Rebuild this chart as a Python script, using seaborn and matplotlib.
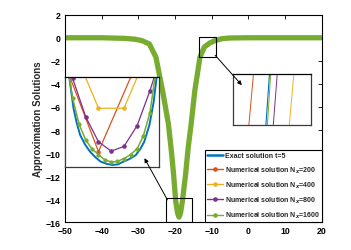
import numpy as np
import pandas as pd
import matplotlib
matplotlib.use('Agg')
import matplotlib.pyplot as plt
import seaborn as sns
from matplotlib.patches import Rectangle, FancyArrowPatch
from matplotlib.lines import Line2D

# ---------------------------------------------------
# data
# ---------------------------------------------------
# whole profile at t=5 (exact and Nx=1600 overlap at this scale)
x_main = [-50, -40, -34, -31, -29, -27, -25.2, -23.4, -22.5, -21.8, -21.0, -20.4,
          -19.8, -19.3, -18.9, -18.5, -18.0, -17.1, -16.4, -15.6, -14.6, -13.2,
          -12.0, -10.5, -9.1, -7.2, -5.0, 0, 10, 20]
u_main = [0, 0, -0.05, -0.12, -0.25, -0.54, -1.69, -4.59, -6.2, -7.48, -9.8, -11.8,
          -14.2, -15.2, -15.55, -15.2, -14.2, -11.8, -9.5, -7.48, -4.59, -1.69,
          -0.8, -0.45, -0.25, -0.08, -0.02, 0, 0, 0]

# zoom on the minimum
x_min_exact = [-19.95, -19.91, -19.82, -19.75, -19.68, -19.58, -19.47, -19.35, -19.25, -19.12,
               -19.00, -18.88, -18.78, -18.64, -18.50, -18.40, -18.32, -18.21, -18.12, -18.06, -18.02]
u_min_exact = [-13.70, -13.98, -14.52, -14.78, -14.98, -15.14, -15.27, -15.37, -15.44, -15.48,
               -15.50, -15.49, -15.45, -15.40, -15.33, -15.22, -15.10, -14.81, -14.41, -14.00, -13.75]
x_min_200 = [-20.39, -19.29, -18.18]
u_min_200 = [-12.93, -15.27, -13.18]
x_min_400 = [-19.83, -19.29, -18.75, -18.21]
u_min_400 = [-13.47, -14.52, -14.52, -13.49]
x_min_800 = [-20.12, -19.84, -19.56, -19.29, -19.02, -18.75, -18.47, -18.20, -17.92]
u_min_800 = [-13.32, -14.00, -14.67, -15.10, -15.26, -15.18, -14.82, -14.22, -13.50]
x_min_1600 = [-19.98, -19.84, -19.70, -19.56, -19.43, -19.29, -19.16, -19.02, -18.89,
              -18.75, -18.61, -18.47, -18.34, -18.20, -18.06, -17.92]
u_min_1600 = [-13.60, -14.34, -14.80, -15.07, -15.22, -15.32, -15.41, -15.45, -15.44,
              -15.39, -15.32, -15.22, -15.00, -14.60, -13.80, -13.00]

# zoom on the right foot
u_foot = [-0.71, -0.59]
x_foot_exact = [-11.217, -11.206]
x_foot_200 = [-11.261, -11.247]
x_foot_400 = [-11.157, -11.143]
x_foot_800 = [-11.198, -11.186]
x_foot_1600 = [-11.213, -11.203]

x_ticks = [-50, -40, -30, -20, -10, 0, 10, 20]
y_ticks = [-16, -14, -12, -10, -8, -6, -4, -2, 0, 2]
labels = ['Exact solution t=5', r'Numerical solution N$_x$=200', r'Numerical solution N$_x$=400',
          r'Numerical solution N$_x$=800', r'Numerical solution N$_x$=1600']

c_exact = '#0072BD'
c_200 = '#D95319'
c_400 = '#EDB120'
c_800 = '#7E2F8E'
c_1600 = '#77AC30'

sns.set_style('white')
plt.rcParams['font.family'] = ['Liberation Sans Narrow', 'Liberation Sans', 'DejaVu Sans']
plt.rcParams['font.weight'] = 'bold'

fig = plt.figure(figsize=(3.51, 2.51), dpi=100)
ax = fig.add_axes([0.1852, 0.1104, 0.7313, 0.8271])

sns.lineplot(x=x_main, y=u_main, ax=ax, color=c_exact, lw=1.5)
sns.lineplot(x=x_main, y=u_main, ax=ax, color=c_1600, lw=3.8)

ax.set_xlim(-50, 20)
ax.set_ylim(-16, 2)
ax.set_xticks(x_ticks)
ax.set_yticks(y_ticks)
ax.tick_params(direction='in', length=3, width=0.6, top=True, right=True,
               labelsize=6.3, pad=3, colors='black')
for lab in ax.get_xticklabels() + ax.get_yticklabels():
    lab.set_fontweight('bold')
for s in ax.spines.values():
    s.set_color('black')
    s.set_linewidth(0.8)
ax.set_ylabel('Approximation Solutions', fontsize=7, fontweight='bold', labelpad=2)

# zoom boxes on the main curve
ax.add_patch(Rectangle((-22.4, -16), 7.0, 2.08, fill=False, ec='black', lw=0.8, zorder=5))
ax.add_patch(Rectangle((-13.4, -1.64), 4.5, 1.68, fill=False, ec='black', lw=0.8, zorder=5))

handles = [Line2D([], [], color=c_exact, lw=1.8),
           Line2D([], [], color=c_200, lw=1.0, marker='o', ms=2.3),
           Line2D([], [], color=c_400, lw=1.0, marker='o', ms=2.3),
           Line2D([], [], color=c_800, lw=1.0, marker='o', ms=2.3),
           Line2D([], [], color=c_1600, lw=1.0, marker='o', ms=2.3)]
leg = ax.legend(handles, labels, loc='lower right', borderaxespad=0,
                prop={'weight': 'bold', 'size': 5.0}, frameon=True, fancybox=False,
                edgecolor='black', framealpha=1, handlelength=2.2, handletextpad=0.3,
                labelspacing=0.72, borderpad=0.3)
leg.get_frame().set_linewidth(0.8)
leg.set_zorder(10)

# inset: minimum
ax1 = fig.add_axes([0.1852, 0.3319, 0.2687, 0.3574])
sns.lineplot(x=x_min_exact, y=u_min_exact, ax=ax1, color=c_exact, lw=1.4)
sns.lineplot(x=x_min_200, y=u_min_200, ax=ax1, color=c_200, lw=0.9, marker='o', ms=2.5, mec=c_200)
sns.lineplot(x=x_min_400, y=u_min_400, ax=ax1, color=c_400, lw=0.9, marker='o', ms=2.5, mec=c_400)
sns.lineplot(x=x_min_800, y=u_min_800, ax=ax1, color=c_800, lw=0.9, marker='o', ms=2.5, mec=c_800)
sns.lineplot(x=x_min_1600, y=u_min_1600, ax=ax1, color=c_1600, lw=1.1, marker='o', ms=2.3, mec=c_1600)
ax1.set_xlim(-20, -18)
ax1.set_ylim(-15.53, -13.98)

# inset: right foot
ax2 = fig.add_axes([0.6647, 0.4992, 0.2214, 0.2020])
sns.lineplot(x=x_foot_200, y=u_foot, ax=ax2, color=c_200, lw=0.7, sort=False)
sns.lineplot(x=x_foot_exact, y=u_foot, ax=ax2, color=c_exact, lw=0.8, sort=False)
sns.lineplot(x=x_foot_1600, y=u_foot, ax=ax2, color=c_1600, lw=0.7, sort=False)
sns.lineplot(x=x_foot_800, y=u_foot, ax=ax2, color=c_800, lw=0.7, sort=False)
sns.lineplot(x=x_foot_400, y=u_foot, ax=ax2, color=c_400, lw=0.7, sort=False)
ax2.set_xlim(-11.30, -11.10)
ax2.set_ylim(-0.70, -0.60)

for a in (ax1, ax2):
    a.set_xticks([])
    a.set_yticks([])
    a.set_xlabel('')
    a.set_ylabel('')
    for s in a.spines.values():
        s.set_color('#3a3a3a')
        s.set_linewidth(0.9)
    a.spines['top'].set_color('black')

# arrows from the boxes to the insets
for start, end in [((-21.7, -14.27), (-28.7, -10.23)), ((-9.56, -1.34), (-1.27, -4.29))]:
    arr = FancyArrowPatch(start, end, transform=ax.transData, arrowstyle='-|>',
                          mutation_scale=6, lw=0.7, color='black', zorder=20)
    fig.add_artist(arr)

fig.savefig('out.png', dpi=100)
